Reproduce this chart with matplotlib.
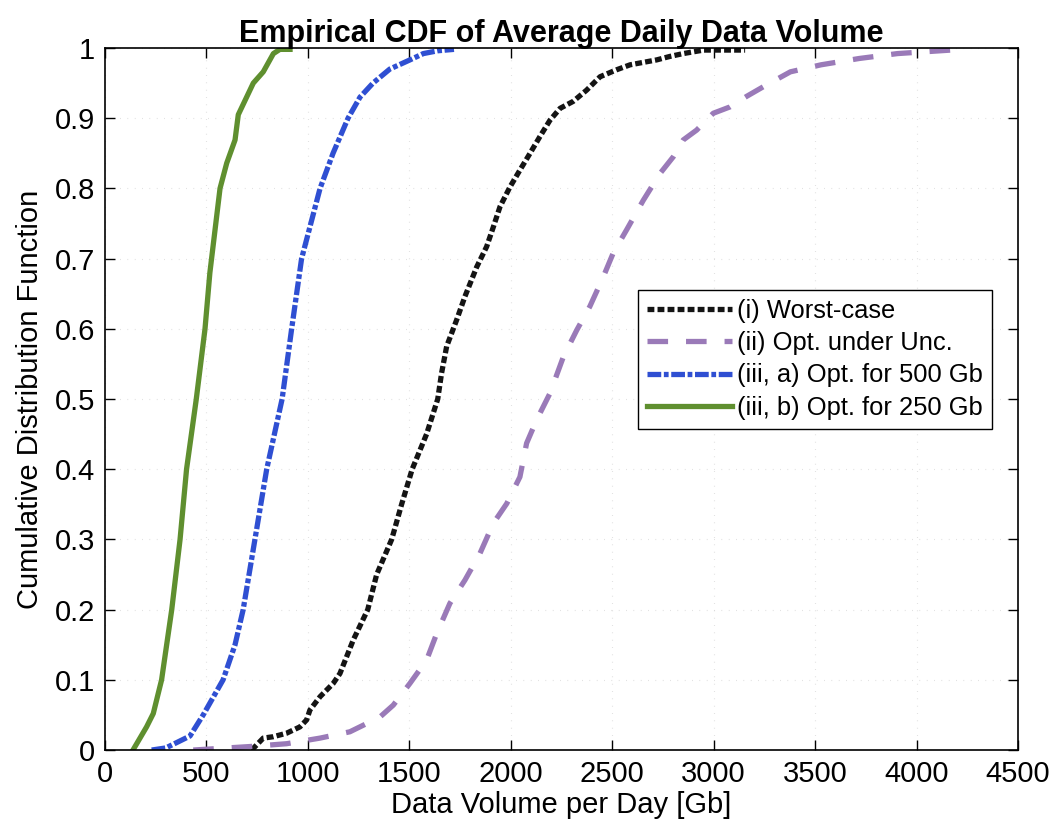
import matplotlib
matplotlib.use("Agg")
import matplotlib.pyplot as plt

plt.rcParams["font.family"] = ["Liberation Sans", "DejaVu Sans"]

# Empirical CDF knots: data volume per day [Gb] and cumulative probability
worst_vol = [723, 780, 830, 895, 961, 994, 1010, 1060, 1125, 1158, 1191, 1224,
             1295, 1339, 1413, 1462, 1514, 1585, 1640, 1659, 1684, 1733, 1774,
             1832, 1881, 1914, 1947, 1996, 2045, 2095, 2144, 2193, 2243, 2308,
             2374, 2440, 2522, 2588, 2719, 2785, 2850, 2950, 3155]
worst_cdf = [0.0, 0.017, 0.019, 0.024, 0.033, 0.043, 0.057, 0.076, 0.095, 0.109,
             0.133, 0.157, 0.20, 0.25, 0.30, 0.35, 0.40, 0.45, 0.50, 0.537, 0.575,
             0.6125, 0.646, 0.688, 0.717, 0.745, 0.774, 0.802, 0.826, 0.85, 0.874,
             0.897, 0.914, 0.924, 0.94, 0.959, 0.969, 0.976, 0.983, 0.988, 0.992,
             0.997, 0.997]

unc_vol = [435, 715, 895, 1060, 1207, 1355, 1421, 1503, 1585, 1635, 1700, 1774,
           1848, 1914, 1980, 2045, 2078, 2127, 2193, 2259, 2325, 2390, 2456, 2505,
           2571, 2653, 2735, 2801, 2850, 2916, 2998, 3080, 3162, 3246, 3378, 3529,
           3717, 3906, 4170]
unc_cdf = [0.0, 0.005, 0.009, 0.017, 0.026, 0.047, 0.064, 0.095, 0.128, 0.166,
           0.209, 0.242, 0.28, 0.323, 0.351, 0.389, 0.437, 0.47, 0.508, 0.56, 0.598,
           0.632, 0.674, 0.708, 0.741, 0.783, 0.821, 0.845, 0.869, 0.883, 0.907,
           0.916, 0.931, 0.945, 0.966, 0.976, 0.985, 0.992, 0.997]

opt500_vol = [230, 300, 419, 484, 582, 641, 681, 739, 797, 873, 920, 969, 1060,
              1124, 1198, 1257, 1321, 1404, 1503, 1569, 1640, 1720]
opt500_cdf = [0.0, 0.003, 0.02, 0.05, 0.10, 0.15, 0.20, 0.30, 0.40, 0.50, 0.60,
              0.70, 0.80, 0.85, 0.90, 0.93, 0.95, 0.97, 0.983, 0.992, 0.996, 0.998]

opt250_vol = [138, 205, 238, 279, 329, 370, 402, 450, 493, 517, 567, 600, 641,
              657, 731, 780, 830, 862, 912]
opt250_cdf = [0.0, 0.033, 0.052, 0.10, 0.20, 0.30, 0.40, 0.50, 0.60, 0.68, 0.80,
              0.836, 0.869, 0.905, 0.95, 0.966, 0.992, 0.998, 0.998]

labels = ["(i) Worst-case", "(ii) Opt. under Unc.",
          "(iii, a) Opt. for 500 Gb", "(iii, b) Opt. for 250 Gb"]

x_ticks = [0, 500, 1000, 1500, 2000, 2500, 3000, 3500, 4000, 4500]
y_ticks = [0, 0.1, 0.2, 0.3, 0.4, 0.5, 0.6, 0.7, 0.8, 0.9, 1]
y_ticklabels = ["0", "0.1", "0.2", "0.3", "0.4", "0.5", "0.6", "0.7", "0.8", "0.9", "1"]

fig = plt.figure(figsize=(10.52, 8.40), dpi=100)
ax = fig.add_axes([0.0998, 0.1071, 0.8679, 0.8358])

lw = 3.8
ax.plot(worst_vol, worst_cdf, color="#141414", lw=lw,
        linestyle=(0, (1.3, 0.6)), dash_capstyle="butt", label=labels[0])
ax.plot(unc_vol, unc_cdf, color="#9a7ab8", lw=lw,
        linestyle=(0, (3.9, 3.4)), dash_capstyle="butt", label=labels[1])
ax.plot(opt500_vol, opt500_cdf, color="#2f4fd2", lw=lw,
        linestyle=(0, (2.6, 0.5, 0.9, 0.5)), dash_capstyle="butt", label=labels[2])
ax.plot(opt250_vol, opt250_cdf, color="#5f8f2f", lw=lw,
        linestyle="-", label=labels[3])

ax.set_xlim(0, 4500)
ax.set_ylim(0, 1)
ax.set_xticks(x_ticks)
ax.set_xticklabels([str(t) for t in x_ticks])
ax.set_yticks(y_ticks)
ax.set_yticklabels(y_ticklabels)

ax.tick_params(direction="in", length=7, width=1.0, labelsize=21,
               top=True, right=True, pad=7)
for s in ax.spines.values():
    s.set_linewidth(1.2)

ax.grid(True, linestyle=(0, (0.6, 6)), color="#d4d4d4", lw=0.8)

ax.set_title("Empirical CDF of Average Daily Data Volume", fontsize=22,
             fontweight="bold", pad=4)
ax.set_xlabel("Data Volume per Day [Gb]", fontsize=21, labelpad=2)
ax.set_ylabel("Cumulative Distribution Function", fontsize=21, labelpad=8)

leg = ax.legend(loc="upper right", bbox_to_anchor=(0.971, 0.655),
                fontsize=18.4, frameon=True, fancybox=False, framealpha=1,
                edgecolor="black", handlelength=3.3, handletextpad=0.2,
                labelspacing=0.32, borderpad=0.35, borderaxespad=0)
leg.get_frame().set_linewidth(1.0)

fig.savefig("out.png", dpi=100)
